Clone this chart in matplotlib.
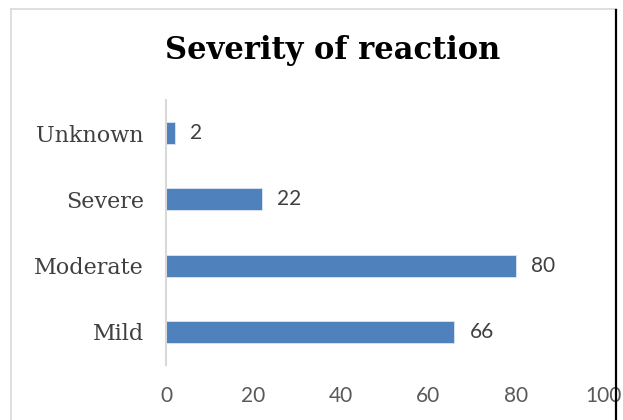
import matplotlib.pyplot as plt
from matplotlib.lines import Line2D

categories = ["Mild", "Moderate", "Severe", "Unknown"]
counts = [66, 80, 22, 2]
x_ticks = [0, 20, 40, 60, 80, 100]

W, H = 623, 420
fig = plt.figure(figsize=(W / 100, H / 100), dpi=100)

# plot area placed to match the reference pixels
left, right = 166 / W, 603 / W
top, bottom = 1 - 100 / H, 1 - 365 / H
ax = fig.add_axes([left, bottom, right - left, top - bottom])

bar_color = "#4f81bd"
ax.barh(range(len(categories)), counts, height=0.33, color=bar_color,
        edgecolor="#dce6f2", linewidth=0.6)

for i, v in enumerate(counts):
    ax.text(v + 3.5, i, str(v), va="center", ha="left",
            fontsize=15, family="Lato", color="#404040")

ax.set_xlim(0, 100)
ax.set_ylim(-0.5, len(categories) - 0.5)
ax.set_yticks(range(len(categories)))
ax.set_yticklabels(categories, family="DejaVu Serif", fontsize=16, color="#404040")
ax.set_xticks(x_ticks)
ax.set_xticklabels([str(t) for t in x_ticks], family="Lato", fontsize=15, color="#595959")
ax.tick_params(axis="both", length=0)
ax.tick_params(axis="y", pad=16)
ax.tick_params(axis="x", pad=15)

for s in ["top", "right", "bottom"]:
    ax.spines[s].set_visible(False)
ax.spines["left"].set_color("#d9d9d9")
ax.spines["left"].set_linewidth(1.5)

fig.text(333 / W, 1 - 50 / H, "Severity of reaction", ha="center", va="center",
         fontsize=22, fontweight="bold", family="DejaVu Serif", color="black")

# chart frame (partly cropped in the reference)
fig.add_artist(Line2D([11 / W, 11 / W], [0, 1 - 9 / H], transform=fig.transFigure,
                      color="#d9d9d9", linewidth=1.2))
fig.add_artist(Line2D([11 / W, 616 / W], [1 - 9 / H, 1 - 9 / H], transform=fig.transFigure,
                      color="#d9d9d9", linewidth=1.2))
fig.add_artist(Line2D([616 / W, 616 / W], [0, 1 - 10 / H], transform=fig.transFigure,
                      color="black", linewidth=1.6))

fig.savefig("out.png", dpi=100, facecolor="white")
